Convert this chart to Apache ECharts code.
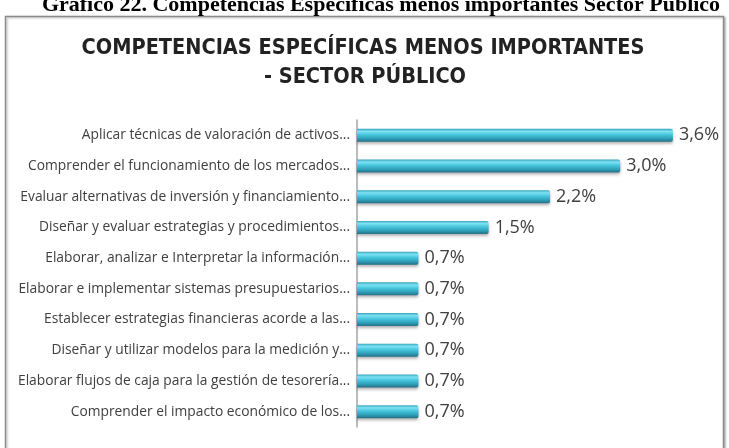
<!DOCTYPE html>
<html>
<head>
<meta charset="utf-8">
<script src="https://cdn.jsdelivr.net/npm/echarts@6/dist/echarts.min.js"></script>
<style>
html,body{margin:0;padding:0;background:#fff;}
#c{width:729px;height:448px;}
</style>
</head>
<body>
<div id="c"></div>
<script>
const categories = [
  "Aplicar técnicas de valoración de activos...",
  "Comprender el funcionamiento de los mercados...",
  "Evaluar alternativas de inversión y financiamiento...",
  "Diseñar y evaluar estrategias y procedimientos...",
  "Elaborar, analizar e Interpretar la información...",
  "Elaborar e implementar sistemas presupuestarios...",
  "Establecer estrategias financieras acorde a las...",
  "Diseñar y utilizar modelos para la medición y...",
  "Elaborar flujos de caja para la gestión de tesorería...",
  "Comprender el impacto económico de los..."
];
const values = [3.6, 3.0, 2.2, 1.5, 0.7, 0.7, 0.7, 0.7, 0.7, 0.7];
const caption = "Gráfico 22. Competencias Específicas menos importantes Sector Público";
const titleLines = ["COMPETENCIAS ESPECÍFICAS MENOS IMPORTANTES", "- SECTOR PÚBLICO"];

const chart = echarts.init(document.getElementById('c'), null, {renderer:'canvas'});
chart.setOption({
  backgroundColor: '#ffffff',
  animation: false,
  graphic: [
    {type:'rect', z:-10, shape:{x:5.5, y:16.5, width:718, height:445},
     style:{fill:'#ffffff', stroke:'#8a8a8a', lineWidth:1.5, shadowColor:'rgba(0,0,0,0.25)', shadowBlur:2, shadowOffsetX:1.5, shadowOffsetY:1}},
    {type:'text', x:381, y:16, z:5,
     style:{text:caption, font:'bold 22px "Liberation Serif", "Times New Roman", serif', fill:'#000', align:'center', verticalAlign:'bottom'}},
    {type:'text', x:363, y:48, z:5,
     style:{text:titleLines[0], font:'bold 21.5px "Liberation Sans Narrow", "DejaVu Sans Condensed", "Open Sans", sans-serif', fill:'#222', align:'center', verticalAlign:'middle'}},
    {type:'text', x:365, y:77, z:5,
     style:{text:titleLines[1], font:'bold 21.5px "Liberation Sans Narrow", "DejaVu Sans Condensed", "Open Sans", sans-serif', fill:'#222', align:'center', verticalAlign:'middle'}}
  ],
  grid: {left:357, top:120, right:21, bottom:21, containLabel:false},
  xAxis: {type:'value', min:0, max:4, show:false},
  yAxis: {
    type:'category', data:categories, inverse:true,
    axisLine:{show:true, lineStyle:{color:'#a6a6a6', width:1.5}},
    axisTick:{show:false},
    axisLabel:{color:'#404040', fontSize:13.8, fontFamily:'"Open Sans", "Liberation Sans", sans-serif', margin:7}
  },
  series: [{
    type:'bar', data:values, barWidth:13,
    itemStyle:{
      color: new echarts.graphic.LinearGradient(0,0,0,1,[
        {offset:0, color:'#3aa7bd'},
        {offset:0.2, color:'#7de2f2'},
        {offset:0.45, color:'#46c6dd'},
        {offset:0.75, color:'#2f9fb8'},
        {offset:1, color:'#256f86'}
      ]),
      borderRadius:[0,2,2,0],
      shadowColor:'rgba(0,0,0,0.3)', shadowBlur:3, shadowOffsetY:2
    },
    label:{show:true, position:'right', distance:6, color:'#404040', fontSize:18,
      fontFamily:'"Open Sans", "Liberation Sans", sans-serif',
      formatter: p => p.value.toFixed(1).replace('.', ',') + '%'}
  }]
});
</script>
</body>
</html>
